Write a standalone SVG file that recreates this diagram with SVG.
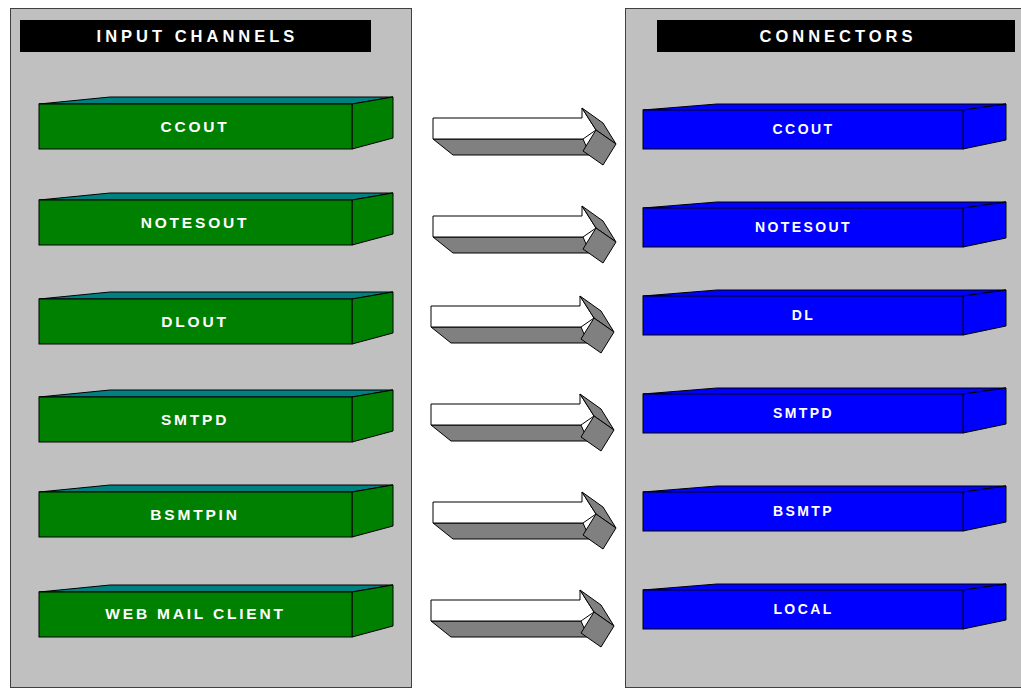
<svg xmlns="http://www.w3.org/2000/svg" xmlns:xlink="http://www.w3.org/1999/xlink" width="1021" height="688" viewBox="0 0 1021 688">
<style>
.panel{fill:#C0C0C0;stroke:#404040;stroke-width:1}
.bar{fill:#000}
.title{font-family:"Liberation Sans",Arial,sans-serif;font-weight:bold;font-size:16.5px;letter-spacing:4px;fill:#fff;text-anchor:middle}
.gf{fill:#008000;stroke:#000;stroke-width:1}
.gt{fill:#008080;stroke:#000;stroke-width:1}
.bf{fill:#0000FF;stroke:#000;stroke-width:1}
.glab{font-family:"Liberation Sans",Arial,sans-serif;font-weight:bold;font-size:15.5px;letter-spacing:2.8px;fill:#fff;text-anchor:middle}
.blab{font-family:"Liberation Sans",Arial,sans-serif;font-weight:bold;font-size:14px;letter-spacing:2.4px;fill:#fff;text-anchor:middle}
.aw{fill:#fff;stroke:#000;stroke-width:1}
.ag{fill:#808080;stroke:#000;stroke-width:1}
</style>
<defs>
<g id="arrow">
<polygon class="ag" points="0,21 20,37 157,37 150,21"/>
<polygon class="aw" points="0,0 149,0 149,-10 163,12 150,21 0,21"/>
<polygon class="ag" points="149,-10 170,5 183,26 163,12"/>
<polygon class="ag" points="163,12 183,26 170,47 150,33"/>
</g>
<g id="gbox">
<polygon class="gt" points="0,0 71,-7 354,-7 313,0"/>
<polygon class="gf" points="313,0 354,-7 354,34 313,45"/>
<rect class="gf" x="0" y="0" width="313" height="45"/>
</g>
<g id="bbox">
<polygon class="bf" points="0,0 74,-6 363,-6 320,0"/>
<polygon class="bf" points="320,0 363,-6 363,30 320,39"/>
<rect class="bf" x="0" y="0" width="320" height="39"/>
</g>
</defs>
<g id="panel-input">
<rect class="panel" x="10.5" y="8.5" width="401" height="679"/>
<rect class="bar" x="20" y="20" width="351" height="32"/>
<text class="title" x="197.5" y="41.5">INPUT CHANNELS</text>
</g>
<g id="panel-connectors">
<rect class="panel" x="625.5" y="8.5" width="400" height="679"/>
<rect class="bar" x="657" y="20" width="358" height="32"/>
<text class="title" x="838" y="41.5">CONNECTORS</text>
</g>
<g id="in-ccout"><use xlink:href="#gbox" href="#gbox" transform="translate(39,104)"/><text class="glab" x="195" y="132">CCOUT</text></g>
<g id="in-notesout"><use xlink:href="#gbox" href="#gbox" transform="translate(39,200)"/><text class="glab" x="195" y="228">NOTESOUT</text></g>
<g id="in-dlout"><use xlink:href="#gbox" href="#gbox" transform="translate(39,299)"/><text class="glab" x="195" y="327">DLOUT</text></g>
<g id="in-smtpd"><use xlink:href="#gbox" href="#gbox" transform="translate(39,397)"/><text class="glab" x="195" y="425">SMTPD</text></g>
<g id="in-bsmtpin"><use xlink:href="#gbox" href="#gbox" transform="translate(39,492)"/><text class="glab" x="195" y="520">BSMTPIN</text></g>
<g id="in-webmail"><use xlink:href="#gbox" href="#gbox" transform="translate(39,592)"/><text class="glab" x="195.5" y="619">WEB MAIL CLIENT</text></g>
<g id="out-ccout"><use xlink:href="#bbox" href="#bbox" transform="translate(643,110)"/><text class="blab" x="803.5" y="134">CCOUT</text></g>
<g id="out-notesout"><use xlink:href="#bbox" href="#bbox" transform="translate(643,208)"/><text class="blab" x="803.5" y="232">NOTESOUT</text></g>
<g id="out-dl"><use xlink:href="#bbox" href="#bbox" transform="translate(643,296)"/><text class="blab" x="803.5" y="320">DL</text></g>
<g id="out-smtpd"><use xlink:href="#bbox" href="#bbox" transform="translate(643,394)"/><text class="blab" x="803.5" y="418">SMTPD</text></g>
<g id="out-bsmtp"><use xlink:href="#bbox" href="#bbox" transform="translate(643,492)"/><text class="blab" x="803.5" y="516">BSMTP</text></g>
<g id="out-local"><use xlink:href="#bbox" href="#bbox" transform="translate(643,590)"/><text class="blab" x="803.5" y="614">LOCAL</text></g>
<g id="connectors">
<use xlink:href="#arrow" href="#arrow" transform="translate(433,118)"/>
<use xlink:href="#arrow" href="#arrow" transform="translate(433,216)"/>
<use xlink:href="#arrow" href="#arrow" transform="translate(431,306)"/>
<use xlink:href="#arrow" href="#arrow" transform="translate(431,404)"/>
<use xlink:href="#arrow" href="#arrow" transform="translate(433,502)"/>
<use xlink:href="#arrow" href="#arrow" transform="translate(431,600)"/>
</g>
</svg>
